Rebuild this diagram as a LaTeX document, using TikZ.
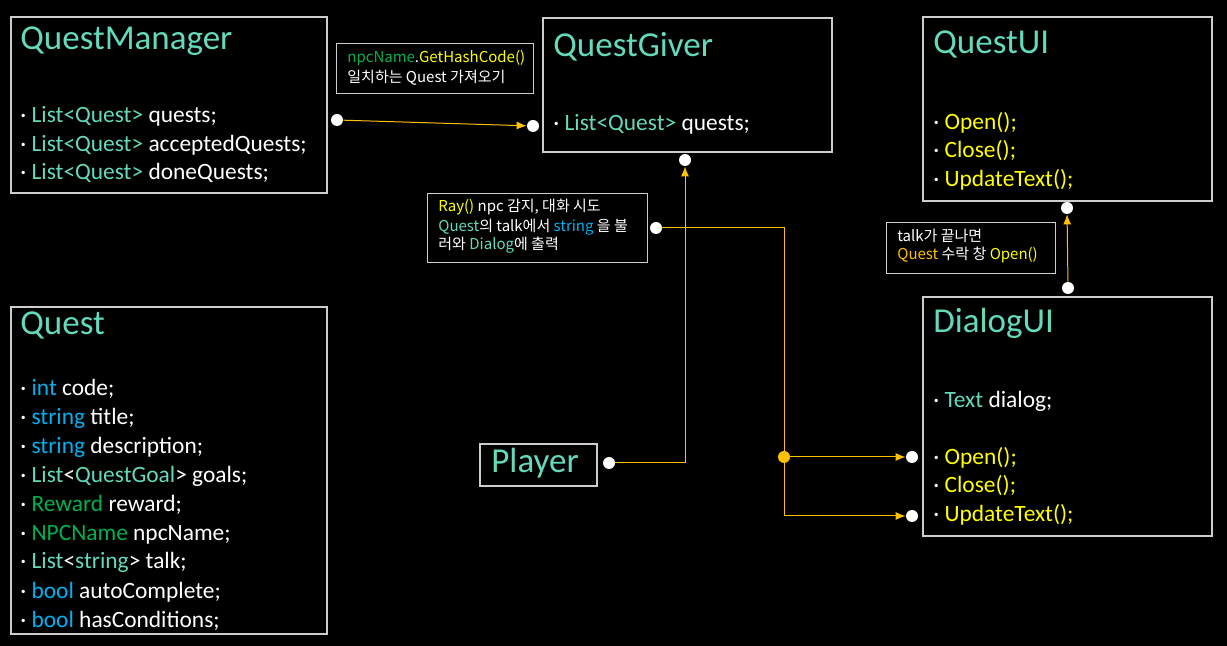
\documentclass[tikz,border=0pt]{standalone}
\usepackage{fontspec}
\setmainfont{Carlito}
\newfontfamily\krfont{Noto Sans CJK KR}
\usetikzlibrary{arrows.meta}
\definecolor{titleteal}{RGB}{100,218,186}
\definecolor{codegreen}{RGB}{0,176,80}
\definecolor{codeblue}{RGB}{0,176,240}
\definecolor{codeyellow}{RGB}{255,255,0}
\definecolor{linkorange}{RGB}{255,192,0}
\definecolor{boxgray}{RGB}{205,205,205}

\begin{document}
\begin{tikzpicture}[x=0.5pt,y=-0.5pt,
  classbox/.style={draw=boxgray,line width=0.8pt,anchor=north west,inner sep=0pt},
  notebox/.style={draw=boxgray,line width=0.6pt,anchor=north west,inner sep=0pt},
  classtitle/.style={anchor=base west,inner sep=0pt,text=titleteal,font=\fontsize{17.5}{20}\selectfont},
  member/.style={anchor=base west,inner sep=0pt,text=white,font=\fontsize{11.7}{14}\selectfont},
  memo/.style={anchor=base west,inner sep=0pt,text=white,font=\krfont\fontsize{7.5}{9}\selectfont},
  whitedot/.style={circle,fill=white,inner sep=0pt,minimum size=6pt},
  junction/.style={circle,fill=linkorange,inner sep=0pt,minimum size=6pt},
  link/.style={draw=linkorange,line width=0.5pt},
  >={Latex[length=5pt,width=4pt]}]
  \fill[black] (0,0) rectangle (1227,646);
  \useasboundingbox (0,0) rectangle (1227,646);

  % QuestManager
  \node[classbox,minimum width=158pt,minimum height=88pt] (qmbox) at (10,16) {};
  \node[classtitle] (qmtitle) at (20,50) {QuestManager};
  \node[member] (qmquests) at (20,123) {· \textcolor{titleteal}{List<Quest>} quests;};
  \node[member] (qmaccepted) at (20,152) {· \textcolor{titleteal}{List<Quest>} acceptedQuests;};
  \node[member] (qmdone) at (20,180) {· \textcolor{titleteal}{List<Quest>} doneQuests;};

  % Quest
  \node[classbox,minimum width=158pt,minimum height=163.5pt] (qbox) at (10,306) {};
  \node[classtitle] (qtitle) at (20,335) {Quest};
  \node[member] (qcode) at (20,396) {· \textcolor{codeblue}{int} code;};
  \node[member] (qtitlefield) at (20,425) {· \textcolor{codeblue}{string} title;};
  \node[member] (qdesc) at (20,454) {· \textcolor{codeblue}{string} description;};
  \node[member] (qgoals) at (20,483) {· \textcolor{titleteal}{List}<\textcolor{titleteal}{QuestGoal}> goals;};
  \node[member] (qreward) at (20,512) {· \textcolor{codegreen}{Reward} reward;};
  \node[member] (qnpc) at (20,541) {· \textcolor{codegreen}{NPCName} npcName;};
  \node[member] (qtalk) at (20,569) {· \textcolor{titleteal}{List}<\textcolor{titleteal}{string}> talk;};
  \node[member] (qauto) at (20,598) {· \textcolor{codeblue}{bool} autoComplete;};
  \node[member] (qcond) at (20,627) {· \textcolor{codeblue}{bool} hasConditions;};

  % QuestGiver
  \node[classbox,minimum width=144.5pt,minimum height=67pt] (qgbox) at (542,17) {};
  \node[classtitle] (qgtitle) at (553,57) {QuestGiver};
  \node[member] (qgquests) at (553,131) {· \textcolor{titleteal}{List<Quest>} quests;};

  % QuestUI
  \node[classbox,minimum width=144.5pt,minimum height=92pt] (quibox) at (922,16) {};
  \node[classtitle] (quititle) at (933,54) {QuestUI};
  \node[member] (quiopen) at (933,130) {· \textcolor{codeyellow}{Open();}};
  \node[member] (quiclose) at (933,158) {· \textcolor{codeyellow}{Close();}};
  \node[member] (quiupdate) at (933,187) {· \textcolor{codeyellow}{UpdateText();}};

  % DialogUI
  \node[classbox,minimum width=144.5pt,minimum height=119.5pt] (dlgbox) at (922,296) {};
  \node[classtitle] (dlgtitle) at (933,333) {DialogUI};
  \node[member] (dlgtext) at (933,408) {· \textcolor{titleteal}{Text} dialog;};
  \node[member] (dlgopen) at (933,465) {· \textcolor{codeyellow}{Open();}};
  \node[member] (dlgclose) at (933,493) {· \textcolor{codeyellow}{Close();}};
  \node[member] (dlgupdate) at (933,522) {· \textcolor{codeyellow}{UpdateText();}};

  % Player
  \node[classbox,minimum width=58.5pt,minimum height=21pt] (plbox) at (479,443) {};
  \node[classtitle] (pltitle) at (491,473) {Player};

  % notes
  \node[notebox,minimum width=98.5pt,minimum height=25pt] (hashnote) at (336,43) {};
  \node[memo] (hashline1) at (347,63) {\textcolor{codegreen}{npcName}.\textcolor{codeyellow}{GetHashCode()}};
  \node[memo] (hashline2) at (347,83) {일치하는 Quest 가져오기};

  \node[notebox,minimum width=110pt,minimum height=34.5pt] (raynote) at (427,193) {};
  \node[memo] (rayline1) at (438,212) {\textcolor{codeyellow}{Ray()} npc 감지, 대화 시도};
  \node[memo] (rayline2) at (438,232) {\textcolor{titleteal}{Quest}의 talk에서 \textcolor{codeblue}{string} 을 불};
  \node[memo] (rayline3) at (438,250) {러와 \textcolor{titleteal}{Dialog}에 출력};

  \node[notebox,minimum width=84.5pt,minimum height=25.5pt] (talknote) at (886,222) {};
  \node[memo] (talkline1) at (897,242) {talk가 끝나면};
  \node[memo] (talkline2) at (897,260) {\textcolor{linkorange}{Quest} 수락 창 \textcolor{codeyellow}{Open()}};

  % dots
  \node[whitedot] (qmdot) at (337,120) {};
  \node[whitedot] (qgdot) at (533,126) {};
  \node[whitedot] (qgbottom) at (685,160) {};
  \node[whitedot] (playerdot) at (609,463) {};
  \node[whitedot] (raydot) at (656,228) {};
  \node[junction] (split) at (784,457) {};
  \node[whitedot] (opendot) at (912,457) {};
  \node[whitedot] (updatedot) at (912,516) {};
  \node[whitedot] (uidot) at (1067,208) {};
  \node[whitedot] (dialogdot) at (1068,288) {};

  % connectors
  \draw[link,->] (qmdot) -- (qgdot);
  \draw[link,->] (playerdot) -| (qgbottom);
  \draw[link] (raydot) -| (split);
  \draw[link,->] (split) -- (opendot);
  \draw[link,->] (split) |- (updatedot);
  \draw[link,->] (dialogdot) -- (uidot);
\end{tikzpicture}
\end{document}
